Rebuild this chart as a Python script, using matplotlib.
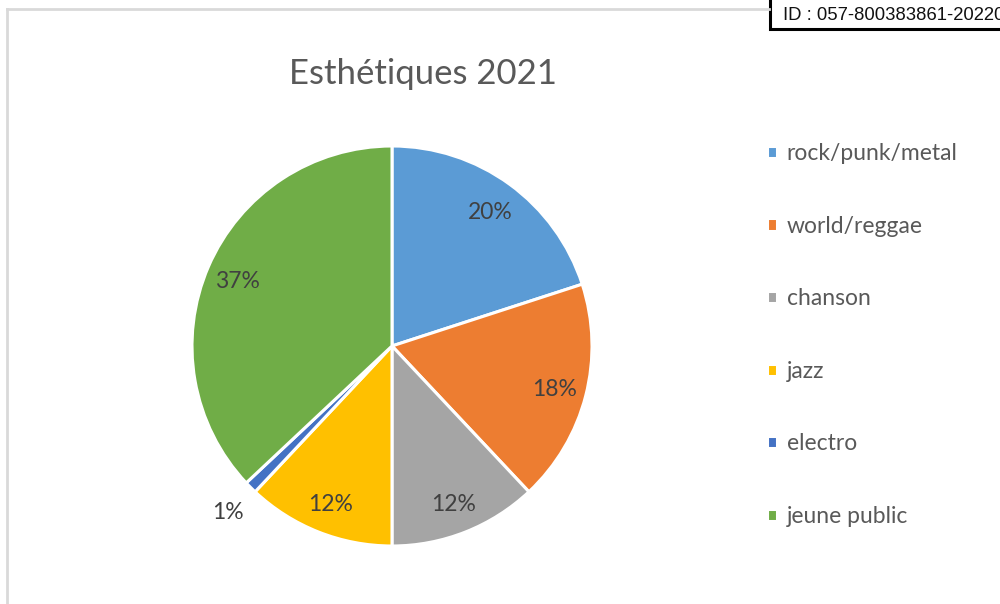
import matplotlib
matplotlib.use('Agg')
import matplotlib.pyplot as plt
from matplotlib.patches import Rectangle
from matplotlib.lines import Line2D
import numpy as np

categories = ['rock/punk/metal', 'world/reggae', 'chanson', 'jazz', 'electro', 'jeune public']
values = [20, 18, 12, 12, 1, 37]
colors = ['#5B9BD5', '#ED7D31', '#A5A5A5', '#FFC000', '#4472C4', '#70AD47']
title = 'Esthétiques 2021'
id_text = 'ID : 057-800383861-20220'

plt.rcParams['font.family'] = ['Lato', 'DejaVu Sans']
W, H = 1000, 604
fig = plt.figure(figsize=(W / 100, H / 100), dpi=100)
ax = fig.add_axes([0, 0, 1, 1])

cx, cy, r = 392, H - 346, 200
wedges, _ = ax.pie(values, colors=colors, startangle=90, counterclock=False,
                   center=(cx, cy), radius=r, frame=True,
                   wedgeprops=dict(edgecolor='white', linewidth=2.2))
ax.set_xlim(0, W)
ax.set_ylim(0, H)
ax.set_aspect('equal')
ax.axis('off')

# percentage labels
total = sum(values)
for w, v in zip(wedges, values):
    ang = np.deg2rad((w.theta1 + w.theta2) / 2)
    d = 1.16 if v / total < 0.05 else 0.84
    ax.text(cx + d * r * np.cos(ang), cy + d * r * np.sin(ang), f'{v}%',
            ha='center', va='center_baseline', fontsize=16.5, color='#404040')

ax.text(423, H - 74, title, ha='center', va='center', fontsize=25, color='#595959')

ax.legend(wedges, categories, loc='upper left', bbox_to_anchor=(758 / W, 1 - 134 / H),
          frameon=False, fontsize=16.5, labelcolor='#595959',
          handlelength=0.45, handleheight=0.45, handletextpad=0.4,
          labelspacing=2.25, borderaxespad=0)

# chart frame
fig.add_artist(Line2D([7 / W, 7 / W], [0, 1 - 9 / H], color='#D9D9D9', lw=2))
fig.add_artist(Line2D([7 / W, 769 / W], [1 - 9 / H, 1 - 9 / H], color='#D9D9D9', lw=2))

# id stamp
fig.add_artist(Rectangle((770 / W, 1 - 29 / H), 240 / W, 40 / H, facecolor='white',
                         edgecolor='black', lw=2.2, transform=fig.transFigure))
fig.text(783 / W, 1 - 15 / H, id_text, ha='left', va='center', fontsize=13.3,
         color='#111111', family=['Liberation Sans', 'DejaVu Sans'])

fig.savefig('out.png', dpi=100)
